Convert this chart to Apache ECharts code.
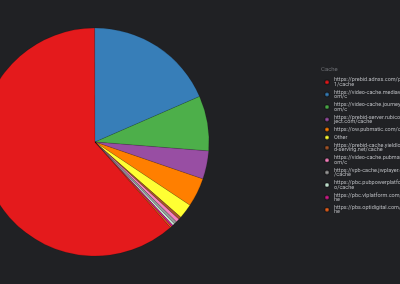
<!DOCTYPE html>
<html><head><meta charset="utf-8">
<script src="https://cdn.jsdelivr.net/npm/echarts@6/dist/echarts.min.js"></script>
<style>html,body{margin:0;padding:0;background:#202124;}#c{width:400px;height:284px;}</style>
</head><body><div id="c"></div>
<script>
const categories = [
  "https://prebid.adnxs.com/pbc/v1/cache",
  "https://video-cache.mediavine.com/c",
  "https://video-cache.journeymv.com/c",
  "https://prebid-server.rubiconproject.com/cache",
  "https://ow.pubmatic.com/cache",
  "Other",
  "https://prebid-cache.yieldlove-ad-serving.net/cache",
  "https://video-cache.pubmatic.com/c",
  "https://vpb-cache.jwplayer.com/cache",
  "https://pbc.pubpowerplatform.io/cache",
  "https://pbc.vlplatform.com/cache",
  "https://pbs.optidigital.com/cache"
];
const values = [61.5, 18.5, 7.8, 4.0, 4.1, 2.1, 0.4, 0.5, 0.4, 0.3, 0.25, 0.2];
const colors = ["#e41a1c","#377eb8","#4daf4a","#984ea3","#ff7f00","#ffff33","#a65628","#f781bf","#999999","#c7e9d6","#d01c8b","#e8601c"];

const chart = echarts.init(document.getElementById('c'));
chart.setOption({
  backgroundColor: '#202124',
  animation: false,
  color: colors,
  title: {
    text: 'Cache', left: 316, top: 61,
    textStyle: {fontSize: 6, color: '#6b6d72', fontWeight: 'normal', fontFamily: 'Roboto'}
  },
  legend: {
    orient: 'vertical', left: 319, top: 72,
    icon: 'circle', itemWidth: 4, itemHeight: 4, itemGap: 2,
    data: categories,
    textStyle: {
      fontSize: 5.5, lineHeight: 4.4, color: '#b5b7bb', fontFamily: 'Roboto',
      width: 79.5, overflow: 'breakAll'
    }
  },
  series: [{
    type: 'pie',
    center: [95, 142],
    radius: 114,
    startAngle: -48.6,
    clockwise: true,
    label: {show: false},
    labelLine: {show: false},
    itemStyle: {borderColor: 'rgba(0,0,0,0.25)', borderWidth: 0.5},
    data: categories.map((n, i) => ({name: n, value: values[i]}))
  }]
});
</script></body></html>
